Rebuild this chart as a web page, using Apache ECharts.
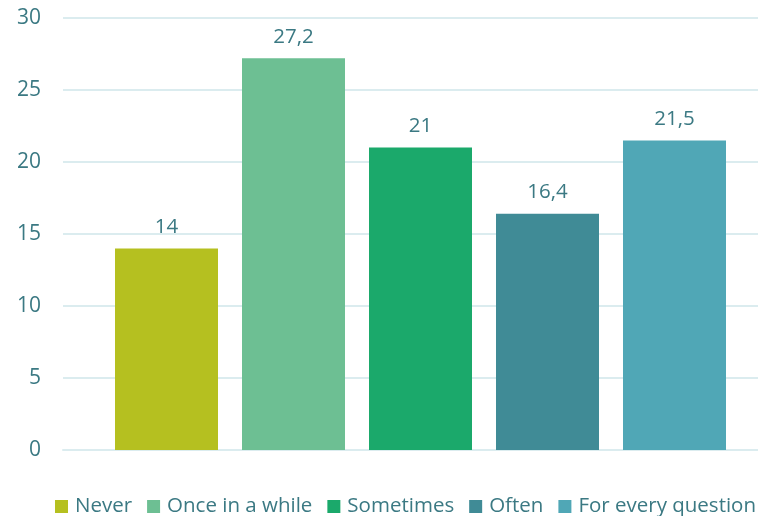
<!DOCTYPE html>
<html><head><meta charset="utf-8">
<script src="https://cdn.jsdelivr.net/npm/echarts@6/dist/echarts.min.js"></script>
<style>html,body{margin:0;padding:0;background:#fff}#c{width:758px;height:516px}</style>
</head><body><div id="c"></div>
<script>
const seriesNames = ['Never', 'Once in a while', 'Sometimes', 'Often', 'For every question'];
const seriesValues = [14, 27.2, 21, 16.4, 21.5];
const seriesColors = ['#b5c020', '#6dbf93', '#1ba96b', '#408b96', '#50a7b6'];
const yTicks = [0, 5, 10, 15, 20, 25, 30];

const txt = '#3b7983';
const font = '"Open Sans", sans-serif';
const yMin = yTicks[0], yMax = yTicks[yTicks.length - 1];
const chart = echarts.init(document.getElementById('c'), null, {renderer: 'canvas'});
chart.setOption({
  animation: false,
  textStyle: {fontFamily: font},
  grid: [
    {left: 63, top: 18, right: 0, height: 432, containLabel: false},
    {left: 83, top: 18, right: 0, height: 432, containLabel: false}
  ],
  legend: {
    left: 50, top: 491, width: 1200, itemWidth: 13, itemHeight: 13, itemGap: 15,
    icon: 'rect',
    textStyle: {color: txt, fontSize: 20.5, fontFamily: font, padding: [0, 0, 0, 2]},
    data: seriesNames
  },
  xAxis: [
    {
      gridIndex: 0, type: 'category', data: [''],
      axisLine: {show: true, lineStyle: {color: '#dbecef', width: 2}},
      axisTick: {show: false}, axisLabel: {show: false}
    },
    {
      gridIndex: 1, type: 'category', data: [''],
      axisLine: {show: false}, axisTick: {show: false}, axisLabel: {show: false}
    }
  ],
  yAxis: [
    {
      gridIndex: 0, type: 'value', min: yMin, max: yMax, interval: 5,
      axisLine: {show: false}, axisTick: {show: false},
      axisLabel: {color: txt, fontSize: 21, fontFamily: font, margin: 22},
      splitLine: {lineStyle: {color: '#dbecef', width: 2}}
    },
    {
      gridIndex: 1, type: 'value', min: yMin, max: yMax, interval: 5,
      axisLine: {show: false}, axisTick: {show: false},
      axisLabel: {show: false}, splitLine: {show: false}
    }
  ],
  series: seriesNames.map((n, i) => ({
    name: n, type: 'bar', data: [seriesValues[i]],
    xAxisIndex: 1, yAxisIndex: 1,
    barWidth: 103, barGap: '23.3%',
    itemStyle: {color: seriesColors[i]},
    label: {
      show: true, position: 'top', distance: 11, color: txt, fontSize: 20.5, fontFamily: font,
      formatter: p => String(p.value).replace('.', ',')
    }
  }))
});
</script></body></html>
